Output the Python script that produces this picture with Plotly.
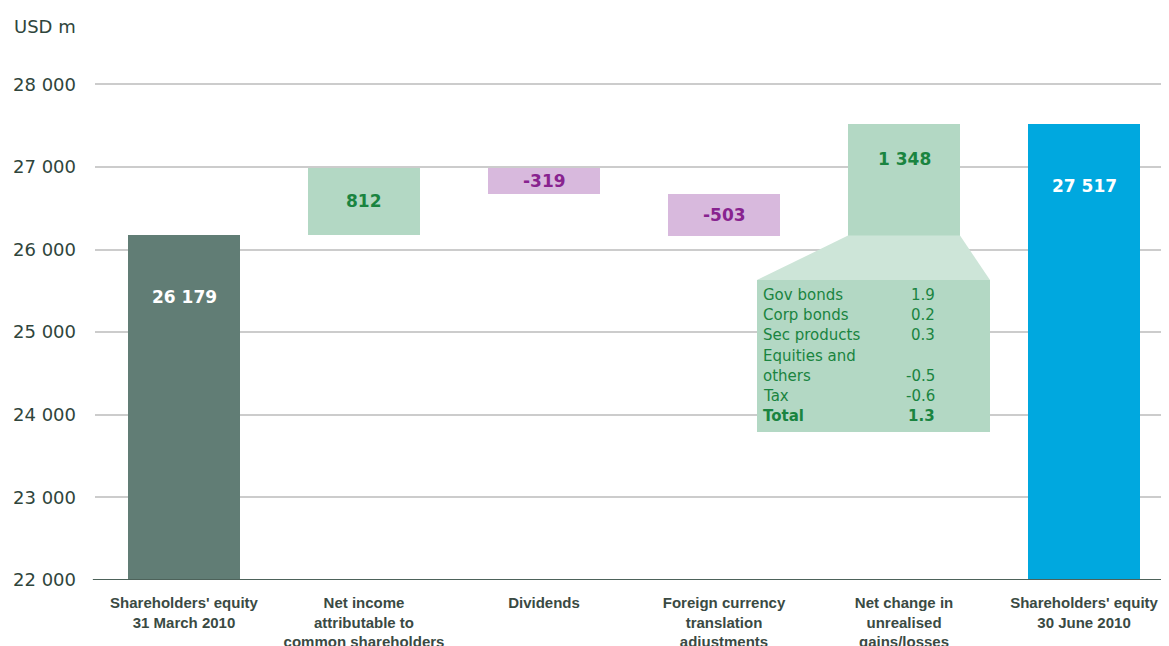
import plotly.graph_objects as go

categories = [
    "Shareholders' equity<br>31 March 2010",
    "Net income<br>attributable to<br>common shareholders",
    "Dividends",
    "Foreign currency<br>translation<br>adjustments",
    "Net change in<br>unrealised<br>gains/losses",
    "Shareholders' equity<br>30 June 2010",
]
start_value = 26179
changes = [812, -319, -503, 1348]
end_value = 27517

table_labels = ["Gov bonds", "Corp bonds", "Sec products", "Equities and<br>others", "Tax", "Total"]
table_values = ["1.9", "0.2", "0.3", "-0.5", "-0.6", "1.3"]

C_START = "#617d75"
C_POS = "#b3d8c4"
C_NEG = "#d8b9dd"
C_END = "#00a8df"
C_TRAP = "#cde5d8"
T_POS = "#1a8440"
T_NEG = "#88238f"
T_AXIS = "#2f453c"

OFF = 8  # page body margin
W, H = 1169 - OFF, 646 - OFF
ML, MR, MT, MB = 95 - OFF, 0, 43 - OFF, 66
YMIN, YMAX = 22000, 28500
X_RANGE = [-0.4944, 5.472]
BAR_W = 0.622


def fmt(v):
    s = f"{abs(v):,}".replace(",", " ")
    return ("-" if v < 0 else "") + s


# bar bases / values
bases, lengths, colors = [YMIN], [start_value - YMIN], [C_START]
level = start_value
for c in changes:
    if c >= 0:
        bases.append(level)
        lengths.append(c)
        colors.append(C_POS)
    else:
        bases.append(level + c)
        lengths.append(-c)
        colors.append(C_NEG)
    level += c
bases.append(YMIN)
lengths.append(end_value - YMIN)
colors.append(C_END)

fig = go.Figure(go.Bar(
    x=list(range(len(categories))), y=lengths, base=bases,
    marker=dict(color=colors, line=dict(width=0)),
    width=BAR_W, hoverinfo="skip",
))

plot_h = H - MT - MB
plot_w = W - ML - MR


def py_to_paper(py):
    return (H - MB - (py - OFF)) / plot_h


def px_to_paper(px):
    return (px - OFF - ML) / plot_w


def cat_to_paper(i):
    return (i - X_RANGE[0]) / (X_RANGE[1] - X_RANGE[0])


def val_to_paper(v):
    return (v - YMIN) / (YMAX - YMIN)


annotations = []
# value labels
label_texts = [fmt(start_value)] + [fmt(c) for c in changes] + [fmt(end_value)]
label_colors = ["white"] + [T_POS if c >= 0 else T_NEG for c in changes] + ["white"]
for i, (b, l) in enumerate(zip(bases, lengths)):
    top = b + l
    if i == 0 or i == len(categories) - 1:
        y, shift = top, -62
    elif i == 4:
        y, shift = top, -35
    else:
        y, shift = b + l / 2, 0
    annotations.append(dict(
        x=i, y=y, xref="x", yref="y", text=f"<b>{label_texts[i]}</b>",
        showarrow=False, yshift=shift, yanchor="middle",
        font=dict(family="DejaVu Sans", size=17, color=label_colors[i]),
    ))

# unit label
annotations.append(dict(
    x=px_to_paper(12), y=py_to_paper(26), xref="paper", yref="paper", text="USD m",
    showarrow=False, xanchor="left", yanchor="middle",
    font=dict(family="DejaVu Sans", size=18, color=T_AXIS),
))

# breakdown box
box_l, box_r, box_t, box_b = 757, 990, 280, 432
line_y = [295, 315, 335, 366, 396, 416]
for lab, val, py in zip(table_labels, table_values, line_y):
    bold = lab == "Total"
    annotations.append(dict(
        x=px_to_paper(761), y=py_to_paper(py), xref="paper", yref="paper",
        text=f"<b>{lab}</b>" if bold else lab, showarrow=False,
        xanchor="left", yanchor="middle", align="left",
        font=dict(family="DejaVu Sans", size=15, color=T_POS),
    ))
    vy = 376 if lab.startswith("Equities") else py
    annotations.append(dict(
        x=px_to_paper(937), y=py_to_paper(vy), xref="paper", yref="paper",
        text=f"<b>{val}</b>" if bold else val, showarrow=False,
        xanchor="right", yanchor="middle", align="right",
        font=dict(family="DejaVu Sans", size=15, color=T_POS),
    ))

trap_top = val_to_paper(bases[4])
xl = cat_to_paper(4 - BAR_W / 2)
xr = cat_to_paper(4 + BAR_W / 2)
shapes = [
    dict(type="path", xref="paper", yref="paper", layer="above",
         path=(f"M {xl} {trap_top} L {xr} {trap_top} "
               f"L {px_to_paper(box_r)} {py_to_paper(box_t)} L {px_to_paper(box_l)} {py_to_paper(box_t)} Z"),
         fillcolor=C_TRAP, line=dict(width=0)),
    dict(type="rect", xref="paper", yref="paper", layer="above",
         x0=px_to_paper(box_l), x1=px_to_paper(box_r), y0=py_to_paper(box_b), y1=py_to_paper(box_t),
         fillcolor=C_POS, line=dict(width=0)),
    dict(type="line", xref="paper", yref="y", layer="above",
         x0=-0.002, x1=1, y0=YMIN, y1=YMIN, line=dict(color="#4d625a", width=2)),
]

fig.update_layout(
    width=W, height=H,
    margin=dict(l=ML, r=MR, t=MT, b=MB, autoexpand=False),
    paper_bgcolor="white", plot_bgcolor="white",
    separators=". ",
    showlegend=False,
    bargap=0,
    xaxis=dict(
        range=X_RANGE,
        tickmode="array", tickvals=list(range(len(categories))),
        ticktext=[f"<b>{c}</b>" for c in categories],
        showgrid=False, zeroline=False, showline=False, ticks="",
        tickfont=dict(family="Liberation Sans", size=15, color="#3a4a43"),
        ticklabelstandoff=12,
    ),
    yaxis=dict(
        range=[YMIN, YMAX], tickmode="array",
        tickvals=[22000, 23000, 24000, 25000, 26000, 27000, 28000],
        tickformat=",d",
        showgrid=True, gridcolor="#cccccc", gridwidth=1.5,
        zeroline=False, showline=False, ticks="",
        tickfont=dict(family="DejaVu Sans", size=18, color=T_AXIS),
        ticklabelstandoff=18,
    ),
    annotations=annotations,
    shapes=shapes,
)

fig.write_html("out.html")
